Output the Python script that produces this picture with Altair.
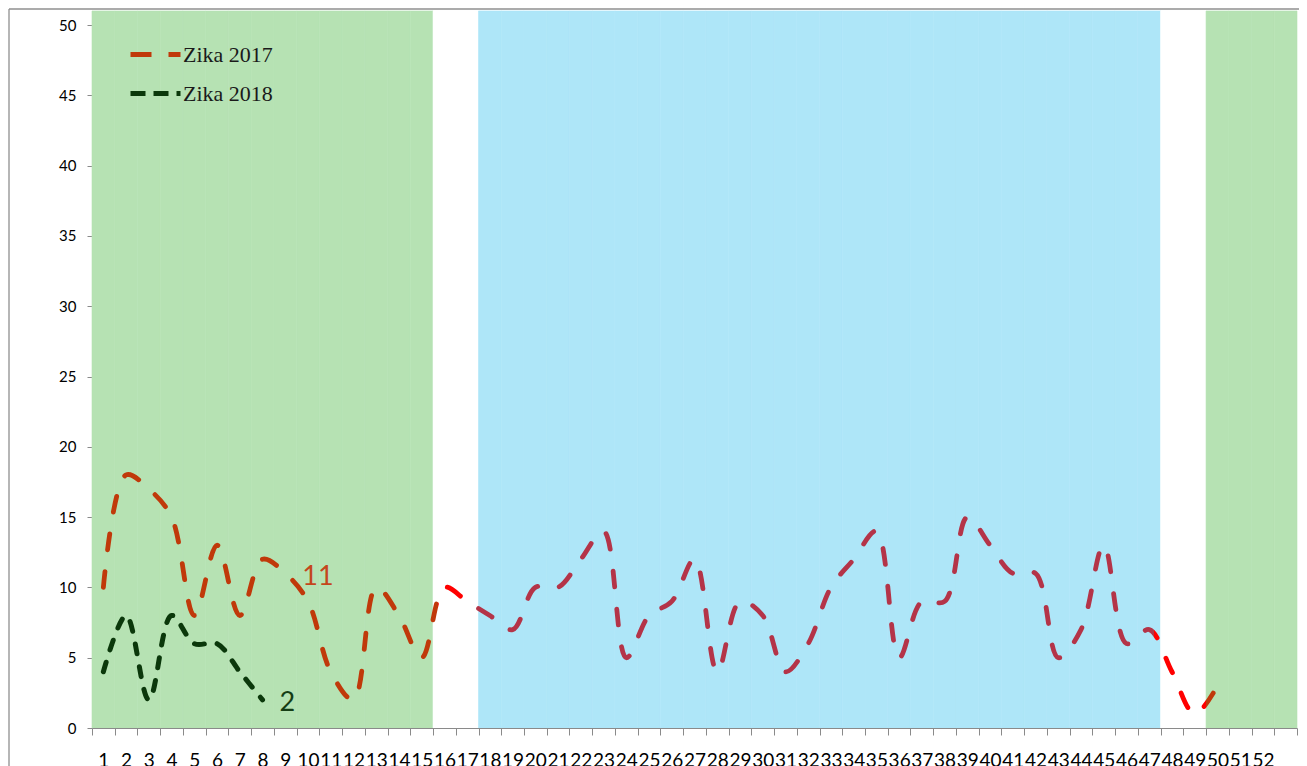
import altair as alt
import pandas as pd

# ---- data -------------------------------------------------------------
weeks = list(range(1, 54))  # 53 week slots on the axis (last one unlabelled)

zika2017_weeks = list(range(1, 51))
zika2017 = [10, 18, 17, 15, 8, 13, 8, 12, 11, 9,
            4, 2, 10, 8, 5, 10, 9, 8, 7, 10,
            10, 12, 14, 5, 8, 9, 12, 4, 9, 8,
            4, 6, 10, 12, 14, 5, 9, 9, 15, 13,
            11, 11, 5, 7, 13, 6, 7, 4, 1, 3]

zika2018_weeks = list(range(1, 9))
zika2018 = [4, 8, 2, 8, 6, 6, 4, 2]

# background seasons (start week, end week, colour)
season_start = [1, 16, 18, 48, 50]
season_end = [15, 17, 47, 49, 53]
season_fill = ["#B6E2B3", "#FFFFFF", "#AEE6F8", "#FFFFFF", "#B6E2B3"]

# annotations (week, value, text)
ann_2017 = {"week": [10], "value": [10.75], "text": ["11"]}
ann_2018 = {"week": [9], "value": [1.8], "text": ["2"]}

series_names = ["Zika 2017", "Zika 2018"]
series_colors = ["#C0390A", "#0B380B"]

# colour changes of the 2017 line (week positions)
c_orange, c_red, c_crimson = "#C0390A", "#FF0000", "#B43448"
change_weeks = [15.7, 17.3, 47.2, 49.5]

# ---- tables -----------------------------------------------------------
bg_rows = []
for s, e, f in zip(season_start, season_end, season_fill):
    for w in range(s, e + 1):
        bg_rows.append({"week": w, "lo": 0, "hi": 51, "fill": f})
bg = pd.DataFrame(bg_rows)

d17 = pd.DataFrame({"week": zika2017_weeks, "value": zika2017})
d18 = pd.DataFrame({"week": zika2018_weeks, "value": zika2018})
leg = pd.DataFrame({"week": [1, 1], "value": [None, None], "series": series_names})

span = zika2017_weeks[-1] - zika2017_weeks[0]
offs = [(w - zika2017_weeks[0]) / span for w in change_weeks]
stops = [
    alt.GradientStop(color=c_orange, offset=0),
    alt.GradientStop(color=c_orange, offset=offs[0]),
    alt.GradientStop(color=c_red, offset=offs[0]),
    alt.GradientStop(color=c_red, offset=offs[1]),
    alt.GradientStop(color=c_crimson, offset=offs[1]),
    alt.GradientStop(color=c_crimson, offset=offs[2]),
    alt.GradientStop(color=c_red, offset=offs[2]),
    alt.GradientStop(color=c_red, offset=offs[3]),
    alt.GradientStop(color=c_orange, offset=offs[3]),
    alt.GradientStop(color=c_orange, offset=1),
]
grad = alt.LinearGradient(gradient="linear", stops=stops, x1=0, x2=1, y1=0, y2=0)

# ---- encodings --------------------------------------------------------
x_enc = alt.X(
    "week:O",
    scale=alt.Scale(type="band", domain=weeks, paddingInner=0, paddingOuter=0),
    axis=alt.Axis(
        title=None, labelAngle=0, labelFont="Lato", labelFontSize=19,
        labelColor="#000000", labelOverlap=False, tickBand="extent",
        tickSize=7, tickColor="#8A8A8A", domainColor="#8A8A8A",
        labelPadding=16, labelExpr="datum.value == 53 ? '' : datum.label",
    ),
)
y_scale = alt.Scale(domain=[0, 50], nice=False, zero=True)
y_axis = alt.Axis(
    title=None, values=list(range(0, 51, 5)), grid=False, labelFont="Lato",
    labelFontSize=15, labelColor="#000000", tickSize=5, tickColor="#8A8A8A",
    domainColor="#8A8A8A", labelPadding=11,
)

background = alt.Chart(bg).mark_rect(strokeWidth=0.6).encode(
    x=x_enc,
    y=alt.Y("lo:Q", scale=y_scale, axis=y_axis),
    y2="hi:Q",
    fill=alt.Fill("fill:N", scale=None),
    stroke=alt.Stroke("fill:N", scale=None),
)

line17 = alt.Chart(d17).mark_line(
    interpolate="catmull-rom", strokeWidth=4.8, strokeDash=[16, 22],
    strokeCap="round", stroke=grad,
).encode(x=x_enc, y=alt.Y("value:Q", scale=y_scale))

line18 = alt.Chart(d18).mark_line(
    interpolate="catmull-rom", strokeWidth=5, strokeDash=[10, 13],
    strokeCap="round", color="#0B380B",
).encode(x=x_enc, y=alt.Y("value:Q", scale=y_scale))

legend = alt.Legend(
    title=None, orient="none", legendX=36, legendY=2, symbolType="stroke",
    symbolSize=2500, symbolStrokeWidth=5, labelFont="Liberation Serif",
    labelFontSize=22, labelColor="#1A1A1A", labelOffset=0, rowPadding=-6,
    padding=0,
)
legend_layer = alt.Chart(leg).mark_line(strokeWidth=5).encode(
    x=x_enc,
    y=alt.Y("value:Q", scale=y_scale),
    color=alt.Color("series:N", scale=alt.Scale(domain=series_names, range=series_colors), legend=legend),
    strokeDash=alt.StrokeDash("series:N", scale=alt.Scale(domain=series_names, range=[[21, 17], [15, 8]]), legend=legend),
)

t17 = alt.Chart(pd.DataFrame(ann_2017)).mark_text(
    font="Lato", fontSize=27, color="#C4461C", dx=10, baseline="middle"
).encode(x=x_enc, y=alt.Y("value:Q", scale=y_scale), text="text:N")

t18 = alt.Chart(pd.DataFrame(ann_2018)).mark_text(
    font="Lato", fontSize=27, color="#153D15", dx=2, baseline="middle"
).encode(x=x_enc, y=alt.Y("value:Q", scale=y_scale), text="text:N")

frame_df = pd.DataFrame({"k": [0]})
frame_top = alt.Chart(frame_df).mark_rule(color="#8F8F8F", strokeWidth=1.3).encode(
    x=alt.value(-83), x2=alt.value(1215), y=alt.value(-16)
)
frame_left = alt.Chart(frame_df).mark_rule(color="#8F8F8F", strokeWidth=1.3).encode(
    x=alt.value(-83), y=alt.value(-16), y2=alt.value(760)
)

chart = alt.layer(
    background, line18, line17, legend_layer, t17, t18, frame_top, frame_left
).properties(
    width=1205, height=703,
    padding={"left": 84, "top": 17, "right": 2, "bottom": 40},
    autosize=alt.AutoSizeParams(type="none"),
).configure_view(strokeWidth=0)

chart.save("out.html", embed_options={"renderer": "svg", "actions": False})
